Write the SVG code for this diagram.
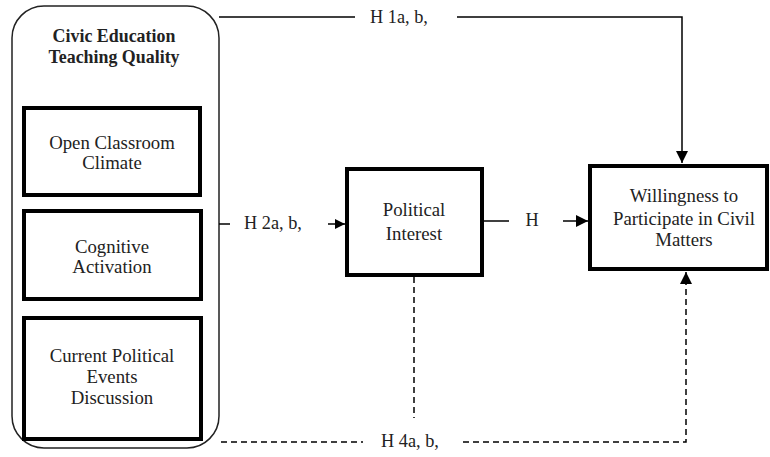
<svg xmlns="http://www.w3.org/2000/svg" width="770" height="457" viewBox="0 0 770 457">
<defs>
<style>
.t{font-family:"Liberation Serif","Times New Roman",serif;font-size:18.8px;fill:#222;text-anchor:middle}
.h{font-size:18.3px}
.b{font-weight:bold;font-size:17.9px}
.box{fill:#fff;stroke:#000;stroke-width:4}
.ln{fill:none;stroke:#000;stroke-width:1.5}
.dl{fill:none;stroke:#000;stroke-width:1.5;stroke-dasharray:6,4}
</style>
<marker id="ah" viewBox="0 0 10 10" refX="10" refY="5" markerWidth="10" markerHeight="10" markerUnits="userSpaceOnUse" orient="auto">
<path d="M0,0 L10,5 L0,10 Z" fill="#000"/>
</marker>
<marker id="ahb" viewBox="0 0 12 12" refX="12" refY="6" markerWidth="12" markerHeight="12" markerUnits="userSpaceOnUse" orient="auto">
<path d="M0,0 L12,6 L0,12 Z" fill="#000"/>
</marker>
</defs>
<rect width="770" height="457" fill="#fff"/>
<g id="teaching-quality">
<rect x="12" y="6" width="207" height="442" rx="32" ry="32" fill="#fff" stroke="#222" stroke-width="1.5"/>
<text class="t b" x="114" y="42">Civic Education</text>
<text class="t b" x="114" y="63">Teaching Quality</text>
</g>
<g id="open-classroom">
<rect class="box" x="24" y="108" width="176" height="87"/>
<text class="t" x="112" y="149">Open Classroom</text>
<text class="t" x="112" y="169">Climate</text>
</g>
<g id="cognitive-activation">
<rect class="box" x="24" y="211" width="177" height="88"/>
<text class="t" x="112" y="253">Cognitive</text>
<text class="t" x="112" y="273">Activation</text>
</g>
<g id="current-events">
<rect class="box" x="24" y="318" width="177" height="121"/>
<text class="t" x="112" y="362">Current Political</text>
<text class="t" x="112" y="383">Events</text>
<text class="t" x="112" y="404">Discussion</text>
</g>
<g id="political-interest">
<rect class="box" x="347" y="169" width="135" height="106"/>
<text class="t" x="414" y="216">Political</text>
<text class="t" x="414" y="240">Interest</text>
</g>
<g id="willingness">
<rect class="box" x="590" y="166" width="177" height="103"/>
<text class="t" x="684" y="202">Willingness to</text>
<text class="t" x="684" y="225">Participate in Civil</text>
<text class="t" x="684" y="246">Matters</text>
</g>
<g id="connectors">
<path class="ln" d="M219,17 H355"/>
<path class="ln" d="M457,17 H682 V163" marker-end="url(#ahb)"/>
<path class="ln" d="M219,224 H230"/>
<path class="ln" d="M328,224 H345" marker-end="url(#ah)"/>
<path class="ln" d="M483,221 H509"/>
<path class="ln" d="M563,221 H588" marker-end="url(#ahb)"/>
<path class="dl" d="M414,277 V418"/>
<path class="dl" d="M221,442 H363"/>
<path class="dl" d="M463,442 H686 V272" marker-end="url(#ahb)"/>
<text class="t h" x="399" y="23">H 1a, b,</text>
<text class="t h" x="273" y="229">H 2a, b,</text>
<text class="t h" x="532" y="226">H</text>
<text class="t h" x="410" y="447">H 4a, b,</text>
</g>
</svg>
